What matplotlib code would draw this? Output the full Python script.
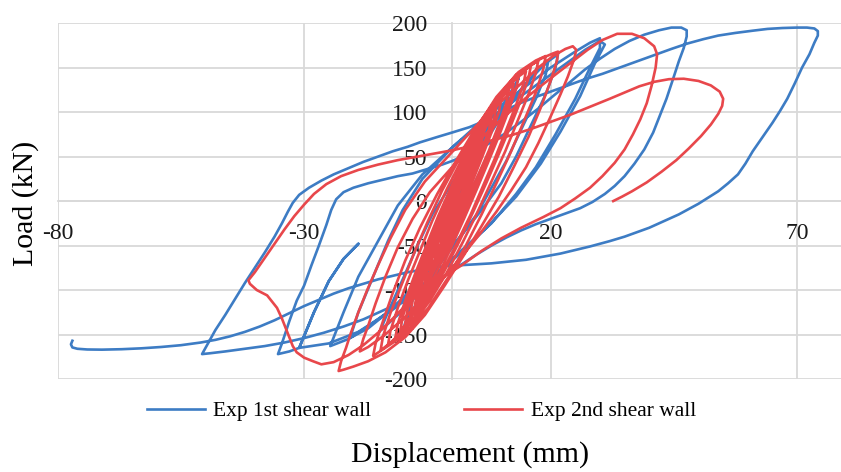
import numpy as np
import matplotlib
matplotlib.use("Agg")
import matplotlib.pyplot as plt

plt.rcParams['font.family'] = ['Liberation Serif', 'DejaVu Serif']
plt.rcParams['axes.unicode_minus'] = False

# Load-displacement loops (mm, kN)
wall1_small = [
    (0, 0), (2, 30), (4, 55), (6, 80), (8, 100), (9, 110), (8, 95), (6, 65), (4, 35), (2, 5),
    (0, -25), (-2, -55), (-4, -85), (-6, -112), (-6.5, -122),
    (-5, -100), (-3, -65), (-1, -30), (1, 0), (4, 40), (7, 75), (10, 105), (12.5, 128), (13.5, 138),
    (12.5, 122), (10, 90), (8, 60), (5, 25), (2, -10), (-1, -45), (-4, -80), (-7, -112), (-9, -135), (-10, -146),
    (-9, -128), (-7, -95), (-4, -55), (-1, -15), (2, 20), (6, 60), (10, 95), (14, 125), (17, 145), (19.5, 157),
    (19, 142), (17, 115), (14, 80), (11, 45), (8, 15), (5, -15), (1, -45), (-3, -75), (-7, -105), (-11, -128), (-14.6, -146),
    (-13, -125), (-10, -88), (-7, -50), (-4, -15), (0, 20), (5, 60), (10, 100), (15, 132), (19, 155), (21.5, 165),
    (21, 150), (19, 120), (16, 85), (13, 50), (10, 20), (6, -10), (2, -38), (-3, -68), (-8, -98), (-13, -125),
    (-17, -143), (-20.7, -154),
    (-19, -125), (-16, -85), (-13, -45), (-10, -10), (-6, 25), (0, 60), (7, 95), (14, 125), (20, 150), (25, 168),
    (28, 178), (30, 183), (30, 172), (28, 150), (25, 115), (21, 75), (17, 38), (13, 8), (8, -25), (2, -55),
    (-4, -85), (-10, -112), (-16, -137), (-21, -155), (-24.7, -163),
    (-22, -125), (-19, -85), (-15, -45), (-11, -5), (-6, 30), (1, 65), (8, 95), (15, 122), (22, 150), (27, 170),
    (30, 180), (31, 176), (29, 155), (26, 118), (22, 78), (18, 42), (13, 5), (7, -30), (1, -62), (-5, -92),
    (-12, -122), (-19, -147), (-25, -160), (-31, -165),
    (-28, -125), (-25, -90), (-22, -65), (-19, -48), (-22, -65), (-25, -90), (-28, -125), (-31, -165),
]
wall1_large = [
    (-33, -169), (-35.3, -172),
    (-34.5, -160), (-33, -135), (-31.5, -112), (-30, -95), (-28.5, -72), (-27, -50), (-25.5, -27), (-24.5, -10),
    (-23.5, 2), (-22, 10), (-20, 15), (-17, 20), (-14, 24), (-11, 28), (-8, 31), (-5, 36), (-2, 41), (0, 45),
    (3, 52), (7, 63), (10.5, 75), (14, 89), (17.5, 104), (20.5, 118), (24, 134), (27, 148), (30, 160), (33, 171),
    (36, 180), (39, 187), (42, 192), (44.5, 195), (46.5, 195), (47.6, 192), (47.6, 185), (47, 172), (46, 157),
    (45, 140), (43.5, 115), (42, 94), (40.8, 77), (39, 58), (37, 42), (35, 28), (33, 17), (31, 8), (28.5, -1),
    (26, -8), (23, -14), (20, -20), (17, -26), (14, -33), (11, -41), (8, -50), (5, -60), (2, -71), (-1, -82),
    (-4, -93), (-7, -104), (-10, -113), (-14, -123), (-18, -133), (-22, -141), (-26, -148), (-30, -154),
    (-34, -159), (-38, -163), (-42, -166), (-46, -169), (-49, -171), (-50.7, -172),
    (-49.5, -160), (-48, -145), (-46, -128), (-44, -110), (-42, -92), (-40, -75), (-38, -58), (-36, -40),
    (-34.5, -25), (-33.3, -12), (-32.3, -2), (-31, 7), (-29, 15), (-26.5, 23), (-24, 30), (-21, 37), (-18, 44),
    (-15, 50), (-12, 56), (-9, 61), (-6.5, 66), (-3, 72), (0, 77), (3.5, 83), (7, 91), (10.5, 101), (13.8, 110),
    (17, 117), (20, 123), (23.5, 130), (27, 137), (30.5, 143), (34, 150), (37.5, 157), (41, 164), (44.5, 171),
    (47.7, 177), (51, 182), (54, 186), (57.5, 189), (61, 191.5), (64, 193.5), (67, 194.5), (70, 195), (72, 195),
    (73.5, 194), (74.2, 191), (74.2, 186), (73.5, 178), (72.5, 165), (71, 150), (69.5, 132), (68, 115),
    (66.5, 101), (65, 88), (63, 72), (61, 56), (59.5, 42), (58, 30), (56, 20), (54, 11), (52, 4), (50, -3),
    (48, -9), (46, -15), (44, -20), (42, -25), (40, -30), (38, -34), (35, -40), (32, -45), (28, -51), (25, -55),
    (22, -59), (18, -63), (15, -66), (11.5, -68), (8, -70), (5, -71), (2, -72), (-1, -73), (-3, -74), (-6, -77),
    (-9, -80), (-12, -84), (-15, -88), (-18, -93), (-21, -98), (-24, -104), (-27, -111), (-30, -118), (-33, -126),
    (-36, -134), (-39, -141), (-42, -147), (-45, -152), (-48, -156), (-51, -159), (-55, -162), (-59, -164),
    (-63, -165.5), (-67, -166.5), (-71, -167), (-74, -166.8), (-76, -166), (-77, -164.5), (-77.3, -161), (-77, -157),
]

wall2_small = [
    (0, 0), (1, 15), (2.5, 35), (4, 50), (3.5, 38), (2, 18), (0.5, -2), (-1, -22), (-2.5, -45),
    (-2, -30), (-1, -12), (0.5, 10), (2.5, 35), (4.5, 57), (5.5, 68),
    (5, 55), (3.5, 32), (2, 10), (0, -14), (-1.5, -38), (-3.5, -62),
    (-3, -48), (-1.5, -25), (0, -3), (2, 22), (4, 48), (5.5, 67), (6.5, 80),
    (6, 66), (4.5, 42), (3, 18), (1, -6), (-1, -32), (-2.5, -55), (-4.5, -78),
    (-4, -65), (-2.5, -40), (-1, -15), (1, 10), (3, 38), (5, 62), (6.8, 82), (8, 95),
    (7.5, 80), (6, 57), (4, 30), (2, 4), (0, -22), (-2, -48), (-3.8, -72), (-5.5, -92),
    (-5, -78), (-3.5, -52), (-2, -27), (0, 0), (2, 25), (4, 52), (6, 76), (7.8, 95), (9, 106),
    (8.5, 92), (7, 68), (5, 40), (3, 13), (1, -14), (-1, -42), (-3, -66), (-5, -88), (-6.5, -104),
    (-6, -90), (-4.5, -62), (-2.8, -35), (-1, -8), (1, 18), (3, 45), (5.2, 72), (7.5, 95), (9, 108), (10, 115),
    (9.5, 100), (8, 77), (6, 48), (4, 20), (1.8, -8), (-0.5, -38), (-2.8, -64), (-5, -90), (-7.5, -116),
    (-7, -102), (-5.5, -75), (-3.5, -45), (-1.5, -15), (0.5, 12), (2.8, 42), (5, 70), (7.5, 96), (9.8, 115), (11.5, 124),
    (11, 110), (9.5, 86), (7.5, 57), (5.2, 28), (3, 0), (0.5, -30), (-2, -60), (-4.5, -88), (-6.5, -108), (-8.5, -128),
    (-8, -112), (-6.5, -85), (-4.5, -55), (-2.5, -25), (-0.3, 6), (2.2, 37), (4.8, 68), (7.5, 96), (10, 117), (12.5, 132),
    (12, 118), (10.5, 94), (8.5, 65), (6.2, 35), (4, 6), (1.5, -25), (-1, -55), (-3.5, -84), (-6, -108), (-8, -126), (-9.5, -138),
    (-9, -122), (-7.5, -95), (-5.5, -65), (-3.3, -33), (-1, -2), (1.5, 30), (4.2, 62), (7, 92), (10, 118), (12, 132), (13.5, 140),
    (13, 126), (11.5, 102), (9.5, 73), (7.2, 42), (5, 13), (2.5, -19), (0, -50), (-2.5, -80), (-5, -104), (-7.5, -125), (-10.5, -146),
    (-10, -130), (-8.5, -104), (-6.5, -74), (-4.2, -42), (-2, -10), (0.7, 23), (3.5, 56), (6.5, 88), (9.5, 116), (12.5, 136), (15, 146),
    (14.5, 132), (13, 108), (11, 80), (8.7, 48), (6.3, 17), (3.8, -15), (1, -47), (-1.8, -78), (-4.5, -105), (-7.5, -130), (-11.5, -154),
    (-11, -138), (-9.5, -112), (-7.5, -82), (-5.2, -50), (-2.8, -17), (0, 18), (3, 52), (6.2, 86), (9.5, 116), (13, 140), (16, 152),
    (15.5, 138), (14, 114), (12, 86), (9.5, 53), (7, 21), (4.3, -12), (1.5, -45), (-1.5, -78), (-4.5, -108), (-8, -135), (-13, -162),
    (-12.5, -146), (-11, -120), (-9, -90), (-6.5, -56), (-4, -22), (-1, 14), (2.2, 49), (5.6, 84), (9.2, 116), (13, 142), (17.5, 158),
    (17, 144), (15.5, 120), (13.3, 90), (10.8, 56), (8, 22), (5.2, -12), (2.2, -46), (-1, -80), (-4.5, -112), (-8.5, -142), (-14.5, -168),
    (-14, -152), (-12.5, -126), (-10.3, -95), (-7.8, -60), (-5, -24), (-2, 12), (1.5, 48), (5.2, 84), (9, 117), (13.5, 145), (17, 158), (19, 163),
    (18.5, 148), (17, 122), (14.6, 90), (12, 56), (9, 20), (6, -15), (2.8, -50), (-0.8, -86), (-4.8, -120), (-9.5, -150), (-16, -174),
    (-15.5, -160), (-14, -135), (-12, -103), (-9.5, -67), (-6.5, -30), (-3, 8), (1, 47), (5, 84), (9.5, 118), (14, 145),
    (18, 160), (20.5, 166), (21.5, 168),
    (21.3, 158), (20, 135), (18, 105), (15.5, 72), (12.5, 38), (9.5, 5), (6, -28), (2.5, -60), (-1.5, -95), (-5.5, -128),
    (-9.5, -153), (-13.5, -170), (-17, -180), (-20, -186), (-22, -189.5), (-23, -191),
    (-22.5, -180), (-21.5, -165), (-20.5, -148), (-19, -125), (-17.2, -100), (-15, -72), (-12.5, -42), (-9.5, -10),
    (-5.5, 22), (0, 55), (5, 85), (10, 112), (14, 132), (17.5, 150), (20.5, 163), (23, 171), (24.5, 174), (25.2, 170),
    (24.8, 160), (23.5, 140), (22, 120), (20, 95), (17.5, 65), (15, 38), (12, 12), (9, -12), (5.5, -38), (2, -62),
    (-2, -88), (-6, -112), (-10, -133), (-14, -152), (-17, -164), (-18.7, -169),
]
wall2_large = [
    (-18, -155), (-17, -140), (-15.5, -115), (-13.5, -85), (-11, -52), (-8, -20), (-4.5, 10), (0, 38), (5, 66),
    (10, 92), (15, 116), (20, 138), (24, 155), (27.5, 170), (30.5, 181), (33.5, 188), (36.5, 188), (39, 183),
    (41, 174), (41.6, 165), (41.3, 150), (40.5, 130), (39.5, 110), (38.2, 92), (36.7, 75), (35, 58), (33, 43),
    (30.5, 28), (28, 15), (25, 3), (22, -8), (18.5, -18), (14, -30), (10, -42), (6, -56), (2, -72), (-2, -86),
    (-6, -100), (-9, -115), (-12, -132), (-15, -148), (-18, -162), (-21, -173), (-24, -181), (-26.5, -183.5),
    (-28.2, -180), (-30, -176), (-31.5, -170), (-32.3, -163), (-33.5, -146), (-34.5, -132), (-35.5, -120),
    (-37.5, -106), (-39.6, -100), (-41, -93), (-41.3, -89),
    (-40, -80), (-38.5, -68), (-37, -56), (-35.5, -44), (-34, -32), (-32, -17), (-30, -4), (-28, 8), (-25.5, 19),
    (-22.5, 28), (-19, 35), (-15, 41), (-11, 46), (-7, 50), (-3, 54), (0, 57), (4, 62), (8, 68), (12, 74),
    (16, 81), (20, 89), (24, 97), (28, 106), (32, 115), (35, 122), (38, 129), (41, 134), (44, 137), (47, 137.5),
    (50, 135), (52.5, 130), (54.3, 123), (55, 115), (54.8, 107), (54, 98), (52.5, 86), (50.5, 73), (48, 59),
    (45.5, 46), (42.5, 33), (39.5, 21), (36.5, 11), (34.5, 5), (32.7, 0),
]

x_ticks = [-80, -30, 20, 70]
y_ticks = [-200, -150, -100, -50, 0, 50, 100, 150, 200]

blue = '#3d7cc4'
red = '#e8474b'
grid = '#d9d9d9'

w1 = np.array(wall1_small + wall1_large)
w2 = np.array(wall2_small + wall2_large)

fig = plt.figure(figsize=(8.41, 4.72), dpi=100)
ax = fig.add_axes([0.0685, 0.197, 0.9315, 0.754])

ax.plot(w1[:, 0], w1[:, 1], color=blue, lw=1.9, label='Exp 1st shear wall',
        solid_joinstyle='round', zorder=3)
ax.plot(w2[:, 0], w2[:, 1], color=red, lw=1.9, label='Exp 2nd shear wall',
        solid_joinstyle='round', zorder=4)

ax.set_xlim(-80, 78.9)
ax.set_ylim(-200, 200)
ax.set_xticks(x_ticks)
ax.set_yticks(y_ticks)
ax.grid(True, color=grid, lw=1.3)
ax.set_axisbelow(True)

for s in ['top', 'right']:
    ax.spines[s].set_visible(False)
ax.spines['left'].set_position(('data', 0))
ax.spines['bottom'].set_position(('data', 0))
ax.spines['left'].set_color(grid)
ax.spines['bottom'].set_color(grid)
ax.spines['left'].set_linewidth(1.3)
ax.spines['bottom'].set_linewidth(1.3)
ax.tick_params(axis='both', length=0, labelsize=17, colors='#1a1a1a')
ax.tick_params(axis='y', pad=18)
ax.tick_params(axis='x', pad=16)

fig.text(0.030, 0.57, 'Load (kN)', rotation=90, ha='center', va='center', fontsize=21.5)
fig.text(0.559, 0.038, 'Displacement (mm)', ha='center', va='center', fontsize=21.5)

fig.legend(loc='center', bbox_to_anchor=(0.501, 0.129), ncol=2, frameon=False,
           fontsize=15.5, handlelength=2.7, handletextpad=0.4, columnspacing=4.3)

fig.savefig('out.png', dpi=100)
